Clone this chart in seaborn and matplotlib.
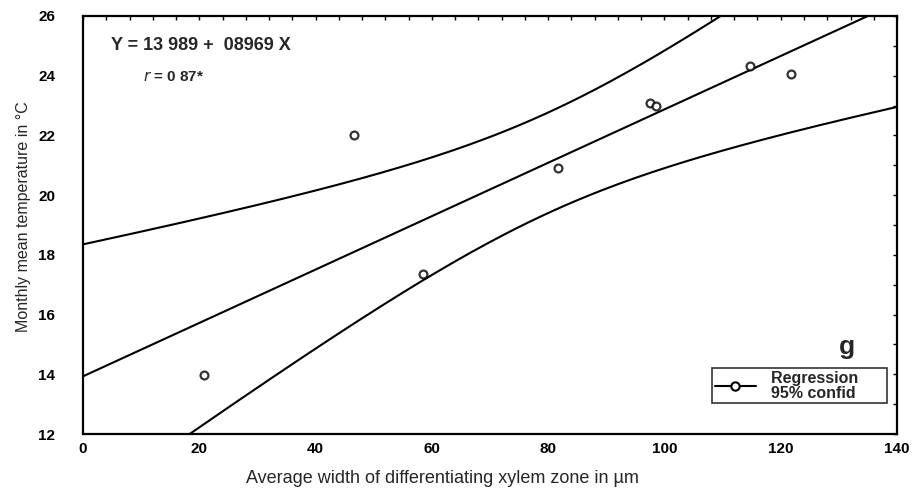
import numpy as np
import pandas as pd
import seaborn as sns
import matplotlib.pyplot as plt
from matplotlib.lines import Line2D
from matplotlib.ticker import MultipleLocator

# values
width_um = [20.8, 46.6, 58.5, 81.7, 97.6, 98.6, 114.8, 121.7]
temp_c = [13.98, 22.0, 17.36, 20.9, 23.08, 22.99, 24.33, 24.05]
t_975_df6 = 2.4469  # Student t, 95 %, n - 2 = 6

sns.set_style("white")
plt.rcParams["font.family"] = ["Liberation Sans", "DejaVu Sans"]

df = pd.DataFrame({"x": width_um, "y": temp_c})

# 95% confidence band of the fitted mean
n = len(df)
slope, icept = np.polyfit(df.x, df.y, 1)
resid = df.y - (icept + slope * df.x)
s = np.sqrt((resid ** 2).sum() / (n - 2))
sxx = ((df.x - df.x.mean()) ** 2).sum()
grid = np.linspace(0, 140, 200)
fit = icept + slope * grid
half = t_975_df6 * s * np.sqrt(1 / n + (grid - df.x.mean()) ** 2 / sxx)
band = pd.DataFrame({"x": grid, "lo": fit - half, "hi": fit + half})

fig = plt.figure(figsize=(9.13, 4.98), dpi=100)
ax = fig.add_axes([0.0909, 0.1285, 0.8916, 0.8395])
ax.set_xlim(0, 140)
ax.set_ylim(12, 26)

sns.lineplot(data=band, x="x", y="hi", color="black", lw=1.5, ax=ax)
sns.lineplot(data=band, x="x", y="lo", color="black", lw=1.5, ax=ax)
sns.regplot(data=df, x="x", y="y", ci=None, truncate=False, ax=ax,
            scatter_kws=dict(s=32, facecolors="white", edgecolors="black",
                             linewidths=1.6, zorder=3),
            line_kws=dict(color="black", lw=1.5))
ax.set_xlim(0, 140)
ax.set_ylim(12, 26)

ax.xaxis.set_major_locator(MultipleLocator(20))
ax.xaxis.set_minor_locator(MultipleLocator(4))
ax.yaxis.set_major_locator(MultipleLocator(2))
ax.yaxis.set_minor_locator(MultipleLocator(1))
ax.tick_params(which="both", direction="in", top=True, right=True,
               length=3, width=1, colors="black")
ax.tick_params(axis="x", which="major", pad=6)
ax.tick_params(axis="y", which="major", pad=20)
for lab in ax.get_xticklabels() + ax.get_yticklabels():
    lab.set_fontweight("bold")
    lab.set_fontsize(11)
for sp in ax.spines.values():
    sp.set_color("black")
    sp.set_linewidth(1.6)

ax.set_xlabel("Average width of differentiating xylem zone in µm", fontsize=13)
ax.xaxis.set_label_coords(0.442, -0.085)
ax.set_ylabel("Monthly mean temperature in °C", fontsize=11.5)
ax.yaxis.set_label_coords(-0.064, 0.52)

ax.text(0.035, 0.93, "Y = 13 989 +  08969 X", transform=ax.transAxes,
        fontsize=13, fontweight="bold", va="center")
ax.text(0.074, 0.853, "$\\it{r}$ = 0 87*", transform=ax.transAxes,
        fontsize=11, fontweight="bold", va="center")
ax.text(0.9386, 0.208, "g", transform=ax.transAxes,
        fontsize=19, fontweight="bold", va="center", ha="center")

h = Line2D([], [], color="black", lw=1.5, marker="o", markersize=6,
           markerfacecolor="white", markeredgewidth=1.5)
leg = ax.legend([h], ["Regression      \n95% confid"], loc="lower left",
                bbox_to_anchor=(0.773, 0.074), frameon=True, fancybox=False,
                prop=dict(size=11.5, weight="bold"), handlelength=2.6,
                handletextpad=0.9, borderpad=0.15, borderaxespad=0)
leg.get_texts()[0].set_linespacing(1.0)
leg.get_frame().set_edgecolor("black")
leg.get_frame().set_linewidth(1.2)

fig.savefig("out.png", dpi=100)
